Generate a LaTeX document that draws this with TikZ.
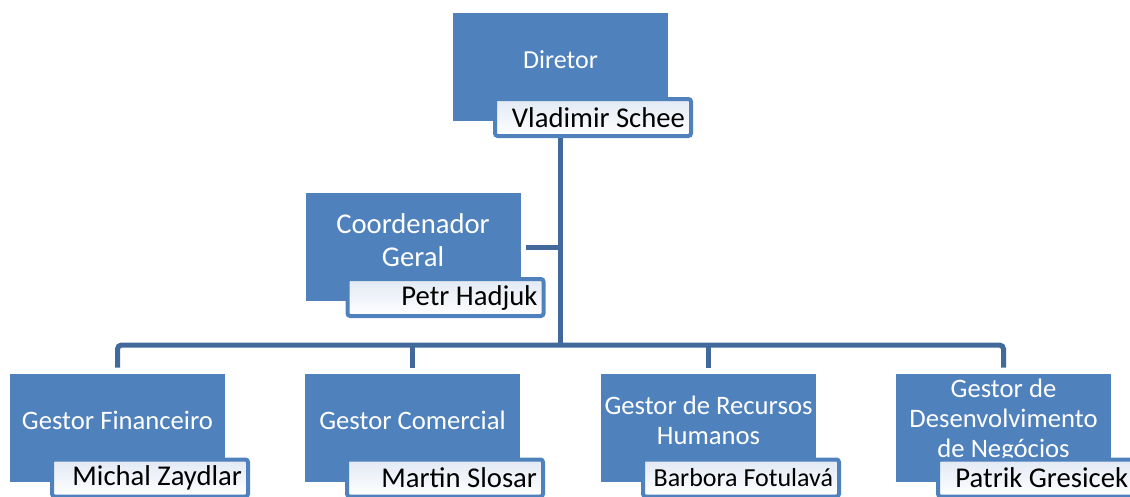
\documentclass[tikz,border=0pt]{standalone}
\usepackage{fontspec}
\setmainfont{Carlito}
\usetikzlibrary{calc,backgrounds}
\definecolor{roleblue}{HTML}{4F81BD}
\definecolor{linkblue}{HTML}{41699C}
\definecolor{namefill}{HTML}{E2E9F4}

\begin{document}
\begin{tikzpicture}[x=0.75pt,y=-0.75pt,
  role/.style={fill=roleblue, minimum width=161.25pt, minimum height=81pt,
    inner sep=0pt, outer sep=0pt},
  roletext/.style={text=white, align=center, inner sep=0pt,
    font=\fontsize{20}{22.5}\selectfont},
  person/.style={draw=roleblue, line width=3pt, rounded corners=2pt,
    top color=namefill, bottom color=white,
    minimum width=147pt, minimum height=27.75pt, text width=138pt,
    align=flush right, inner xsep=4.5pt, inner ysep=0pt, anchor=north west,
    font=\fontsize{21.5}{24}\selectfont},
  link/.style={draw=linkblue, line width=3.75pt}
]
\clip (0,0) rectangle (1130,496);

% Director
\node[role] (dir) at (560.5,67) {};
\node[roletext, font=\fontsize{19.5}{22.5}\selectfont] (dirt) at ($(dir.center)+(0,-7)$) {Diretor};
\node[person] (dirp) at ($(dir.south west)+(40,-24)$) {Vladimir Schee};

% General coordinator
\node[role] (cg) at (413,247) {};
\node[roletext, font=\fontsize{21.5}{25}\selectfont] (cgt) at ($(cg.center)+(0,-7)$) {Coordenador\\Geral};
\node[person] (cgp) at ($(cg.south west)+(40,-24)$) {Petr Hadjuk};

% Managers
\node[role] (gf) at (117.5,427.5) {};
\node[roletext] (gft) at ($(gf.center)+(0,-7)$) {Gestor Financeiro};
\node[person] (gfp) at ($(gf.south west)+(40,-24)$) {Michal Zaydlar};

\node[role] (gc) at (412.5,427.5) {};
\node[roletext] (gct) at ($(gc.center)+(0,-7)$) {Gestor Comercial};
\node[person] (gcp) at ($(gc.south west)+(40,-24)$) {Martin Slosar};

\node[role] (gr) at (708.5,427.5) {};
\node[roletext] (grt) at ($(gr.center)+(0,-7)$) {Gestor de Recursos\\Humanos};
\node[person, font=\fontsize{19.5}{22}\selectfont] (grp) at ($(gr.south west)+(40,-24)$) {Barbora Fotulavá};

\node[role] (gd) at (1003.5,427.5) {};
\node[roletext] (gdt) at ($(gd.center)+(0,-7)$) {Gestor de\\Desenvolvimento\\de Negócios};
\node[person] (gdp) at ($(gd.south west)+(40,-24)$) {Patrik Gresicek};

% Connectors
\begin{scope}[on background layer]
  \coordinate (bus) at ($(dir.south)+(0,224)$);
  \draw[link] (dir.south) -- (bus);
  \draw[link] ($(cg.east)+(5,0)$) -- (cg.east -| dir.south);
  \draw[link, rounded corners=3pt] ($(gf.north)+(0,-6)$) |- (bus) -| ($(gd.north)+(0,-6)$);
  \draw[link] ($(gc.north)+(0,-6)$) -- (gc.north |- bus);
  \draw[link] ($(gr.north)+(0,-6)$) -- (gr.north |- bus);
\end{scope}
\end{tikzpicture}
\end{document}
